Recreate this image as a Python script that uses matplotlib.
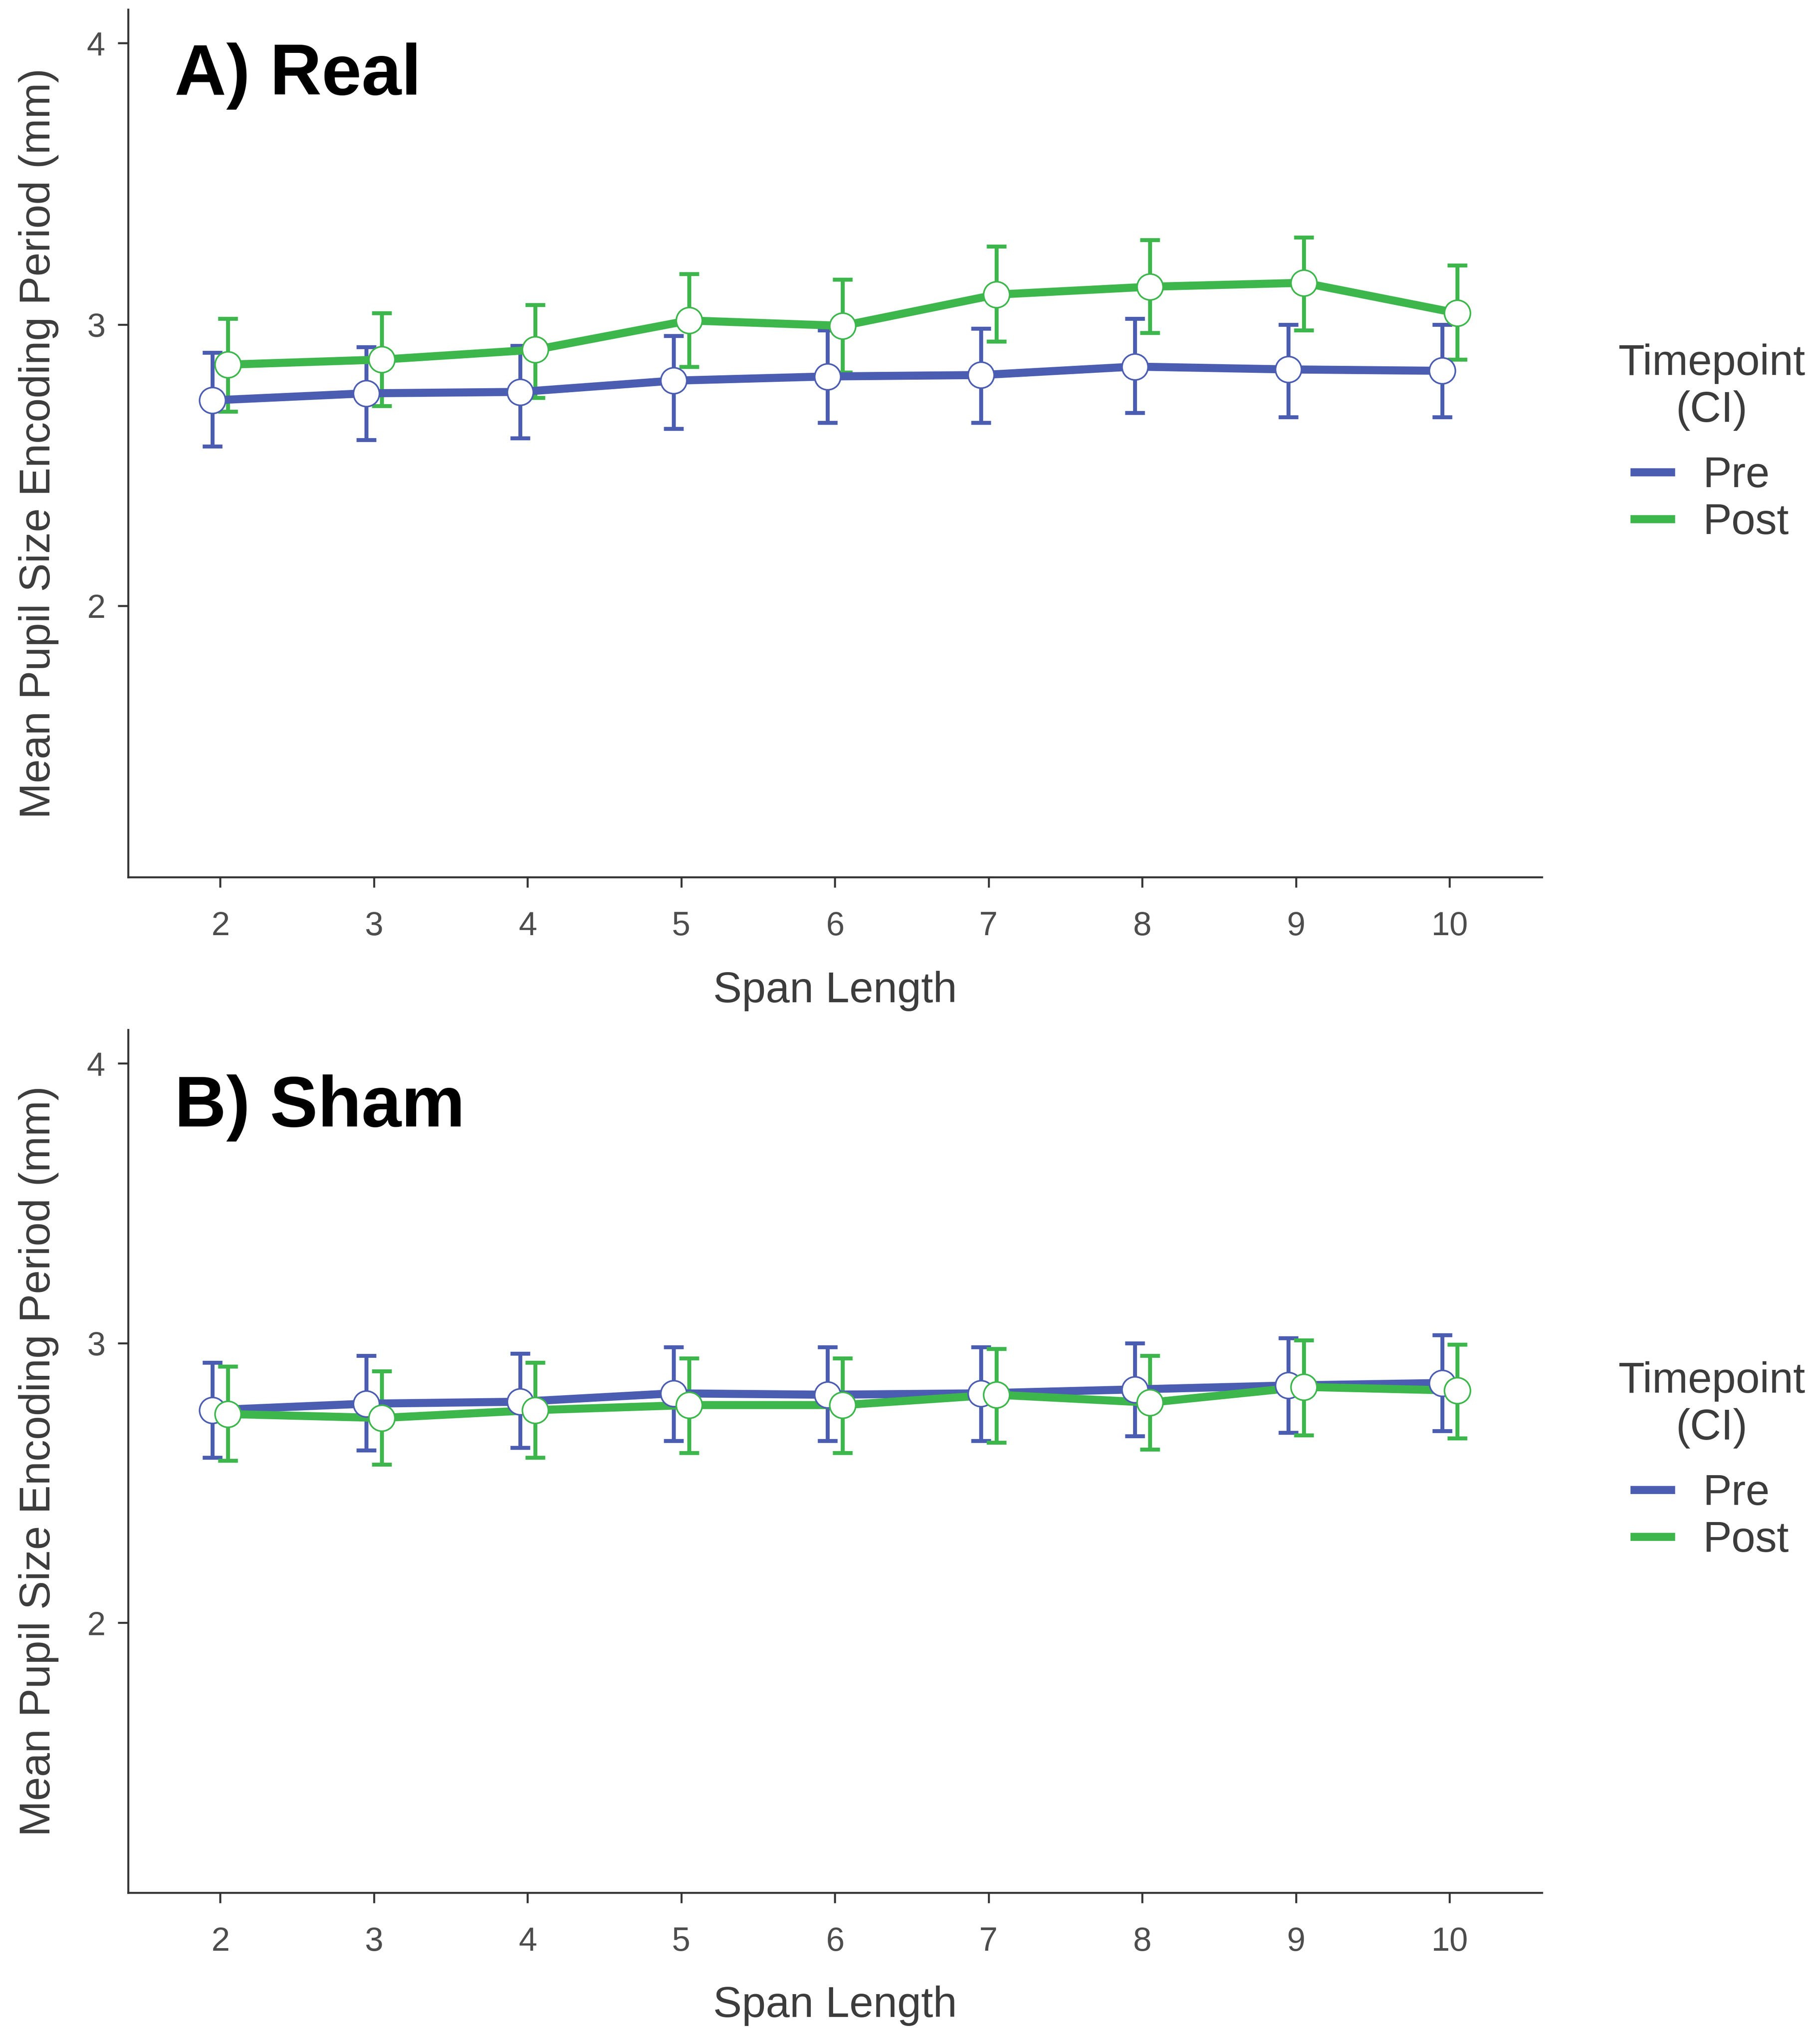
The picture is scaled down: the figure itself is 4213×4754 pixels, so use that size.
import matplotlib
matplotlib.use("Agg")
import matplotlib.pyplot as plt
from matplotlib.lines import Line2D
import numpy as np

plt.rcParams["font.family"] = ["Liberation Sans", "DejaVu Sans"]

span = [2, 3, 4, 5, 6, 7, 8, 9, 10]

# A) Real
real_pre = [2.73, 2.755, 2.76, 2.80, 2.815, 2.82, 2.85, 2.84, 2.835]
real_pre_lo = [2.566, 2.59, 2.595, 2.63, 2.65, 2.65, 2.686, 2.67, 2.67]
real_pre_hi = [2.90, 2.92, 2.925, 2.96, 2.98, 2.985, 3.02, 3.00, 3.00]
real_post = [2.857, 2.875, 2.91, 3.014, 2.995, 3.106, 3.134, 3.148, 3.04]
real_post_lo = [2.69, 2.71, 2.74, 2.85, 2.83, 2.94, 2.97, 2.98, 2.875]
real_post_hi = [3.02, 3.04, 3.07, 3.18, 3.16, 3.277, 3.30, 3.31, 3.21]

# B) Sham
sham_pre = [2.76, 2.783, 2.79, 2.82, 2.815, 2.82, 2.834, 2.848, 2.857]
sham_pre_lo = [2.59, 2.617, 2.626, 2.65, 2.65, 2.65, 2.667, 2.68, 2.686]
sham_pre_hi = [2.93, 2.954, 2.963, 2.986, 2.986, 2.986, 3.00, 3.018, 3.028]
sham_post = [2.746, 2.732, 2.76, 2.778, 2.778, 2.815, 2.787, 2.843, 2.83]
sham_post_lo = [2.58, 2.566, 2.59, 2.607, 2.607, 2.644, 2.62, 2.67, 2.66]
sham_post_hi = [2.917, 2.90, 2.93, 2.945, 2.945, 2.98, 2.954, 3.01, 2.995]

yticks = [2, 3, 4]
blue = "#4b5db1"
green = "#3db64c"
txt = "#3c3c3c"

fig = plt.figure(figsize=(4213 / 300, 4754 / 300), dpi=300)
ax_a = fig.add_axes([0.0707, 0.5709, 0.7807, 0.4245])
ax_b = fig.add_axes([0.0707, 0.0741, 0.7807, 0.4221])


def draw_series(ax, x, y, lo, hi, color):
    y = np.array(y)
    err = [y - np.array(lo), np.array(hi) - y]
    ax.errorbar(x, y, yerr=err, fmt="none", ecolor=color, elinewidth=2.2,
                capsize=5.5, capthick=2.2, zorder=2)
    ax.plot(x, y, color=color, lw=4.5, zorder=3, solid_capstyle="butt")
    ax.plot(x, y, "o", ms=14.5, mfc="white", mec=color, mew=0.9, zorder=4)


def panel(ax, title, title_y, pre, pre_lo, pre_hi, post, post_lo, post_hi):
    x = np.array(span, dtype=float)
    draw_series(ax, x - 0.05, pre, pre_lo, pre_hi, blue)
    draw_series(ax, x + 0.05, post, post_lo, post_hi, green)
    ax.set_xlim(1.4, 10.6)
    ax.set_ylim(1.035, 4.12)
    ax.set_xticks(span)
    ax.set_xticklabels([str(s) for s in span])
    ax.set_yticks(yticks)
    for s in ["top", "right"]:
        ax.spines[s].set_visible(False)
    for s in ["left", "bottom"]:
        ax.spines[s].set_color("#333333")
        ax.spines[s].set_linewidth(1.1)
    ax.tick_params(axis="both", length=5.8, width=1.1, color="#333333",
                   labelsize=18.5, labelcolor="#4d4d4d")
    ax.tick_params(axis="x", pad=13)
    ax.tick_params(axis="y", pad=7)
    ax.set_xlabel("Span Length", fontsize=24, color=txt)
    ax.xaxis.set_label_coords(0.5, -0.108)
    ax.set_ylabel("Mean Pupil Size Encoding Period (mm)", fontsize=24, color=txt)
    ax.yaxis.set_label_coords(-0.049, 0.5)
    ax.text(0.033, title_y, title, transform=ax.transAxes, fontsize=40,
            fontweight="bold", va="baseline", ha="left", color="black")
    handles = [Line2D([], [], color=blue, lw=4.5),
               Line2D([], [], color=green, lw=4.5)]
    leg = ax.legend(handles, ["Pre", "Post"], title="Timepoint\n(CI)",
                    loc="center left", bbox_to_anchor=(1.054, 0.50),
                    frameon=False, fontsize=24, title_fontsize=24,
                    handlelength=0.85, handletextpad=0.75, labelspacing=0.15,
                    borderpad=0, borderaxespad=0)
    leg._legend_box.sep = 14
    leg.get_title().set_multialignment("center")
    leg.get_title().set_color(txt)
    for t in leg.get_texts():
        t.set_color(txt)


panel(ax_a, "A) Real", 0.902, real_pre, real_pre_lo, real_pre_hi,
      real_post, real_post_lo, real_post_hi)
panel(ax_b, "B) Sham", 0.888, sham_pre, sham_pre_lo, sham_pre_hi,
      sham_post, sham_post_lo, sham_post_hi)

fig.savefig("out.png", dpi=300, facecolor="white")
